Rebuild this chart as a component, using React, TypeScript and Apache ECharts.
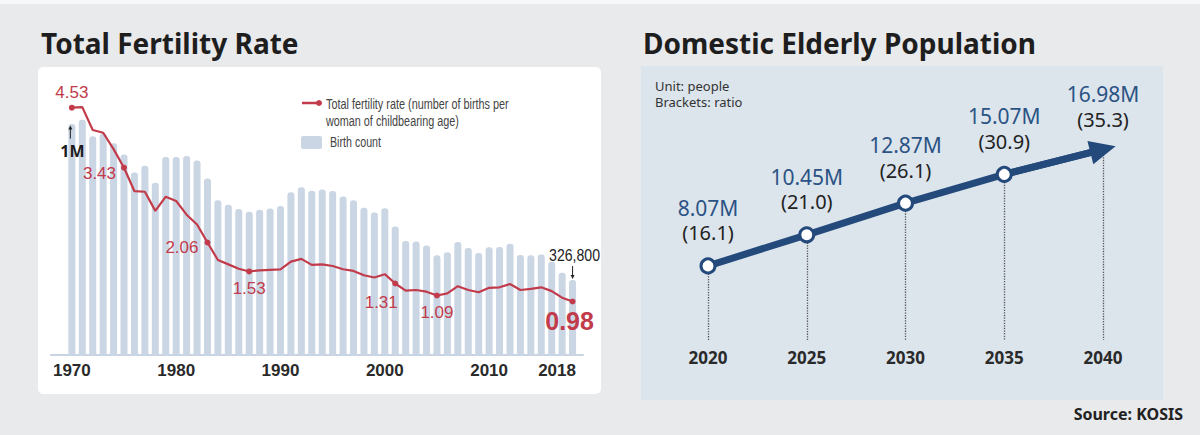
import React, { useEffect, useRef } from "react";
import * as echarts from "echarts";

// ---- Total fertility rate & births (1970–2018) ----
const years = [
  1970, 1971, 1972, 1973, 1974, 1975, 1976, 1977, 1978, 1979,
  1980, 1981, 1982, 1983, 1984, 1985, 1986, 1987, 1988, 1989,
  1990, 1991, 1992, 1993, 1994, 1995, 1996, 1997, 1998, 1999,
  2000, 2001, 2002, 2003, 2004, 2005, 2006, 2007, 2008, 2009,
  2010, 2011, 2012, 2013, 2014, 2015, 2016, 2017, 2018,
];
const births = [
  1007000, 1025000, 953000, 966000, 923000, 874000, 796000, 825000, 751000, 863000,
  863000, 867000, 848000, 769000, 675000, 655000, 636000, 624000, 633000, 639000,
  650000, 709000, 731000, 716000, 721000, 715000, 691000, 675000, 642000, 621000,
  640000, 560000, 497000, 495000, 477000, 435000, 448000, 493000, 466000, 445000,
  470000, 471000, 485000, 436000, 435000, 438000, 406000, 358000, 326800,
];
const tfr = [
  4.53, 4.54, 4.12, 4.07, 3.77, 3.43, 3.0, 2.99, 2.64, 2.9,
  2.82, 2.57, 2.39, 2.06, 1.74, 1.66, 1.58, 1.53, 1.55, 1.56,
  1.57, 1.71, 1.76, 1.65, 1.66, 1.63, 1.57, 1.54, 1.46, 1.42,
  1.48, 1.31, 1.18, 1.19, 1.16, 1.09, 1.13, 1.26, 1.19, 1.15,
  1.23, 1.24, 1.3, 1.19, 1.21, 1.24, 1.17, 1.05, 0.98,
];
const yearTicks = [1970, 1980, 1990, 2000, 2010, 2018];
const tfrCalloutYears = [1970, 1975, 1983, 1987, 2001, 2005, 2018];
const birthsScaleMark = 1000000;

// ---- Domestic elderly population projection ----
const projYears = ["2020", "2025", "2030", "2035", "2040"];
const elderlyMillions = [8.07, 10.45, 12.87, 15.07, 16.98];
const elderlyShare = [16.1, 21.0, 26.1, 30.9, 35.3];

const RED = "#c13b4b";
const BAR = "#cbd6e4";
const NAVY = "#244a7b";
const NARROW = "'Liberation Sans Narrow', 'Liberation Sans', Arial, sans-serif";
const SANS = "'Noto Sans', 'Open Sans', sans-serif";
const TFR_NAME = "Total fertility rate (number of births per woman of childbearing age)";
const PROJ_MIN = 2.4;

// label placement for the annotated fertility values
const calloutPlacement: Record<number, any> = {
  1970: { position: "top", distance: 4 },
  1975: { position: "left", distance: 5, offset: [0, 6] },
  1983: { position: "left", distance: 6, offset: [0, 5] },
  1987: { position: "bottom", distance: 6 },
  2001: { position: "bottom", distance: 8, offset: [-14, 0] },
  2005: { position: "bottom", distance: 6 },
  2018: { position: "bottom", distance: 4, offset: [-3, 0], fontSize: 25, fontWeight: "bold" },
};

const tfrData = years.map((y, i) =>
  tfrCalloutYears.includes(y)
    ? { value: [y, tfr[i]], symbol: "circle", symbolSize: 6, label: { show: true, ...calloutPlacement[y] } }
    : { value: [y, tfr[i]], symbol: "none" }
);

// narrow-looking text: measure in the browser, then squeeze horizontally to a given width
const measureCtx = document.createElement("canvas").getContext("2d")!;
function squeezed(id: string, text: string, x: number, y: number, font: string, width: number, extra: any = {}) {
  measureCtx.font = font;
  const w = measureCtx.measureText(text).width || width;
  return {
    id,
    type: "text",
    z: 10,
    x,
    y,
    scaleX: Math.min(1, width / w),
    style: { text, font, verticalAlign: "middle", ...extra },
  };
}

const baseGraphics: any[] = [
  { id: "topStrip", type: "rect", z: 0, shape: { x: 0, y: 0, width: 1200, height: 4 }, style: { fill: "#f6f7f8" } },
  { id: "leftPanel", type: "rect", z: 0, shape: { x: 38, y: 67, width: 563, height: 327, r: 5 }, style: { fill: "#ffffff" } },
  { id: "rightPanel", type: "rect", z: 0, shape: { x: 641, y: 66, width: 522, height: 334 }, style: { fill: "#dce4ec" } },
  {
    id: "titleL", type: "text", z: 10, x: 41, y: 43,
    style: { text: "Total Fertility Rate", fill: "#1e1e1e", font: `bold 28px ${SANS}`, verticalAlign: "middle" },
  },
  {
    id: "titleR", type: "text", z: 10, x: 643, y: 43,
    style: { text: "Domestic Elderly Population", fill: "#1e1e1e", font: `bold 28px ${SANS}`, verticalAlign: "middle" },
  },
  {
    id: "unit1", type: "text", z: 10, x: 655, y: 86,
    style: { text: "Unit: people", fill: "#333", font: `13px ${SANS}`, verticalAlign: "middle" },
  },
  {
    id: "unit2", type: "text", z: 10, x: 655, y: 102,
    style: { text: "Brackets: ratio", fill: "#333", font: `13px ${SANS}`, verticalAlign: "middle" },
  },
  {
    id: "source", type: "text", z: 10, x: 1183, y: 414,
    style: { text: "Source: KOSIS", fill: "#222", font: `bold 16px ${SANS}`, align: "right", verticalAlign: "middle" },
  },
  // legend
  { id: "lgLine", type: "line", z: 10, shape: { x1: 302, y1: 103, x2: 319, y2: 103 }, style: { stroke: RED, lineWidth: 2.5 } },
  { id: "lgDot", type: "circle", z: 10, shape: { cx: 319, cy: 103, r: 3 }, style: { fill: RED } },
  squeezed("lgText1", "Total fertility rate (number of births per", 326, 105, `14px ${NARROW}`, 183, { fill: "#444" }),
  squeezed("lgText2", "woman of childbearing age)", 326, 122, `14px ${NARROW}`, 133, { fill: "#444" }),
  { id: "lgRect", type: "rect", z: 10, shape: { x: 301, y: 136, width: 21, height: 13, r: 2 }, style: { fill: BAR } },
  squeezed("lgText3", "Birth count", 330, 143, `14px ${NARROW}`, 51, { fill: "#444" }),
];

const option: any = {
  animation: false,
  backgroundColor: "#e9eaec",
  grid: [
    { left: 51, top: 82, width: 532, height: 273 },
    { left: 708, top: 110, width: 395, height: 230 },
  ],
  xAxis: [
    {
      type: "value",
      gridIndex: 0,
      min: 1968,
      max: 2019,
      splitLine: { show: false },
      axisTick: { show: false },
      axisLine: { show: true, lineStyle: { color: "#c9d4e2", width: 2 } },
      axisLabel: {
        customValues: yearTicks,
        margin: 7,
        color: "#2a2a2a",
        fontSize: 17,
        fontWeight: "bold",
        fontFamily: NARROW,
        formatter: (v: number) => (v === 2018 ? `{shift|${v}}` : `${v}`),
        rich: {
          shift: { padding: [0, 31, 0, 0], color: "#2a2a2a", fontSize: 17, fontWeight: "bold", fontFamily: NARROW },
        },
      },
    },
    {
      type: "category",
      gridIndex: 1,
      data: projYears,
      boundaryGap: false,
      axisLine: { show: false },
      axisTick: { show: false },
      axisLabel: { margin: 9, color: "#2a2a2a", fontSize: 17, fontWeight: "bold", fontFamily: SANS },
    },
  ],
  yAxis: [
    { type: "value", gridIndex: 0, min: 0, max: 1190000, show: false },
    { type: "value", gridIndex: 0, min: 0, max: 5, show: false },
    { type: "value", gridIndex: 1, min: PROJ_MIN, max: 20, show: false },
  ],
  series: [
    {
      name: "Birth count",
      type: "bar",
      xAxisIndex: 0,
      yAxisIndex: 0,
      barWidth: 7,
      data: births.map((b, i) => [years[i], b]),
      itemStyle: { color: BAR, borderRadius: [3, 3, 0, 0] },
      z: 2,
    },
    {
      name: TFR_NAME,
      type: "line",
      xAxisIndex: 0,
      yAxisIndex: 1,
      data: tfrData,
      showAllSymbol: true,
      lineStyle: { color: RED, width: 2.2 },
      itemStyle: { color: RED },
      label: {
        color: RED,
        fontSize: 17,
        fontFamily: NARROW,
        formatter: (p: any) => p.value[1].toFixed(2),
      },
      z: 3,
    },
    {
      name: "Elderly population",
      type: "line",
      xAxisIndex: 1,
      yAxisIndex: 2,
      data: elderlyMillions.map((v, i) =>
        i === elderlyMillions.length - 1
          ? { value: v, symbolSize: 1, itemStyle: { color: NAVY, borderWidth: 0 }, label: { distance: 17 } }
          : { value: v }
      ),
      symbol: "circle",
      symbolSize: 14,
      lineStyle: { color: NAVY, width: 7 },
      itemStyle: { color: "#ffffff", borderColor: NAVY, borderWidth: 3 },
      label: {
        show: true,
        position: "top",
        distance: 12,
        formatter: (p: any) =>
          `{m|${elderlyMillions[p.dataIndex].toFixed(2)}M}\n{r|(${elderlyShare[p.dataIndex].toFixed(1)})}`,
        rich: {
          m: { fontSize: 21, color: "#2b5384", fontFamily: SANS, lineHeight: 25, align: "center" },
          r: { fontSize: 20, color: "#222", fontFamily: SANS, lineHeight: 25, align: "center" },
        },
      },
      markLine: {
        silent: true,
        z: 1,
        symbol: ["none", "none"],
        label: { show: false },
        data: [
          ...elderlyMillions.map((v, i) => [
            { coord: [projYears[i], v], lineStyle: { type: "dotted", color: "#555", width: 1.3 } },
            { coord: [projYears[i], PROJ_MIN] },
          ]),
          [
            {
              coord: [projYears[3], elderlyMillions[3]],
              symbol: "none",
              lineStyle: { type: "solid", color: NAVY, width: 7 },
            },
            { coord: [projYears[4], elderlyMillions[4]], symbol: "triangle", symbolSize: [24, 26] },
          ],
        ],
      },
      z: 3,
    },
  ],
  graphic: baseGraphics,
};

export default function App() {
  const ref = useRef<HTMLDivElement>(null);

  useEffect(() => {
    const chart = echarts.init(ref.current!, undefined, { renderer: "svg" });
    chart.setOption(option);

    // "1M" scale marker on the first bar and the latest birth count callout
    const pScale = chart.convertToPixel({ xAxisIndex: 0, yAxisIndex: 0 }, [years[0], birthsScaleMark]) as number[];
    const last = years.length - 1;
    const pLast = chart.convertToPixel({ xAxisIndex: 0, yAxisIndex: 0 }, [years[last], births[last]]) as number[];
    const sx = pScale[0] - 1.5;
    const sy = pScale[1];
    const lx = pLast[0];
    const ly = pLast[1];

    const annotations: any[] = [
      { id: "scaleLine", type: "line", z: 10, shape: { x1: sx, y1: sy + 2, x2: sx, y2: sy + 13 }, style: { stroke: "#222", lineWidth: 1 } },
      {
        id: "scaleHead", type: "polygon", z: 10,
        shape: { points: [[sx, sy], [sx - 2, sy + 4], [sx + 2, sy + 4]] },
        style: { fill: "#222" },
      },
      {
        id: "scaleText", type: "text", z: 10, x: sx + 2, y: sy + 25,
        style: { text: "1M", fill: "#1e1e1e", font: `bold 16px ${SANS}`, align: "center", verticalAlign: "middle" },
      },
      { id: "lastLine", type: "line", z: 10, shape: { x1: lx, y1: ly - 14, x2: lx, y2: ly - 3 }, style: { stroke: "#222", lineWidth: 1 } },
      {
        id: "lastHead", type: "polygon", z: 10,
        shape: { points: [[lx, ly - 1], [lx - 2, ly - 5], [lx + 2, ly - 5]] },
        style: { fill: "#222" },
      },
      squeezed("lastText", births[last].toLocaleString("en-US"), lx + 2, ly - 25, `16px ${NARROW}`, 51, {
        fill: "#222",
        align: "center",
      }),
    ];
    chart.setOption({ graphic: [...baseGraphics, ...annotations] });

    return () => chart.dispose();
  }, []);

  return <div ref={ref} style={{ position: "fixed", left: 0, top: 0, width: 1200, height: 435 }} />;
}
